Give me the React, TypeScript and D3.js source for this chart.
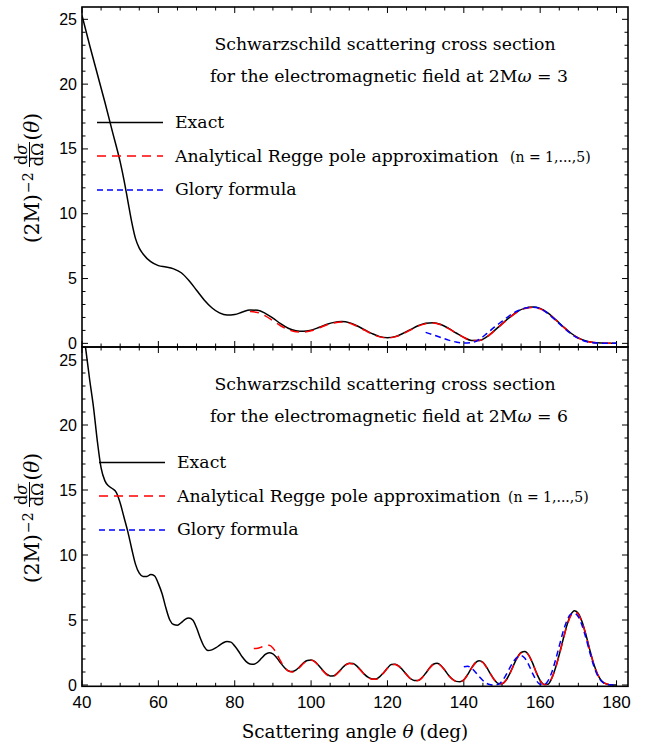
import React from "react";
import * as d3 from "d3";

// ---------- data ----------
const topExactTheta = [40,42,44,46,48,50,51,52,53,54,55,56,58,60,62,64,66,68,70,72,74,76,78,80,82,84,86,88,90,92,94,96,98,100,102,104,106,108,110,112,114,116,118,120,122,124,126,128,130,132,134,136,138,140,142,144,146,148,150,152,154,156,158,160,162,164,166,168,170,172,174,176,178,180];
const topExact = [25.3,23.0,20.8,18.6,16.3,14.0,12.6,11.0,9.4,8.1,7.35,6.9,6.3,6.0,5.9,5.75,5.45,4.85,4.1,3.35,2.75,2.35,2.18,2.22,2.42,2.58,2.55,2.32,1.95,1.52,1.17,0.98,0.93,1.02,1.22,1.45,1.62,1.68,1.6,1.36,1.05,0.75,0.52,0.44,0.52,0.76,1.06,1.36,1.55,1.6,1.46,1.16,0.8,0.46,0.23,0.22,0.5,0.98,1.5,2.0,2.45,2.72,2.8,2.7,2.35,1.85,1.3,0.8,0.42,0.18,0.07,0.02,0.0,0.0];

const topReggeTheta = [84,86,88,90,92,94,96,98,100,102,104,106,108,110,112,114,116,118,120,122,124,126,128,130,132,134,136,138,140,142,144,146,148,150,152,154,156,158,160,162,164,166,168,170,172,174,176,178,180];
const topRegge = [2.45,2.38,2.12,1.75,1.36,1.06,0.9,0.88,0.97,1.18,1.42,1.58,1.64,1.56,1.32,1.02,0.72,0.5,0.43,0.5,0.73,1.03,1.33,1.52,1.57,1.44,1.14,0.79,0.45,0.23,0.22,0.49,0.96,1.48,1.98,2.42,2.68,2.76,2.66,2.32,1.82,1.28,0.78,0.4,0.17,0.06,0.02,0.0,0.0];

const topGloryTheta = [130,132,134,136,138,140,142,144,146,148,150,152,154,156,158,160,162,164,166,168,170,172,174,176,178,180];
const topGlory = [0.85,0.65,0.45,0.25,0.1,0.02,0.05,0.3,0.75,1.25,1.7,2.15,2.5,2.72,2.78,2.68,2.3,1.8,1.25,0.75,0.38,0.15,0.05,0.01,0.0,0.0];

const botExactTheta = d3.range(40, 181);
const botExact = [28.0,25.8,23.5,21.4,18.8,16.7,15.7,15.3,15.1,14.8,14.0,12.9,11.8,10.5,9.3,8.6,8.35,8.35,8.5,8.4,7.8,7.0,5.9,5.0,4.65,4.6,4.8,5.05,5.15,5.0,4.4,3.6,2.95,2.65,2.7,2.85,3.05,3.25,3.35,3.3,3.0,2.6,2.15,1.8,1.62,1.6,1.75,2.05,2.35,2.48,2.4,2.1,1.7,1.35,1.1,1.03,1.15,1.4,1.7,1.88,1.92,1.8,1.5,1.15,0.85,0.7,0.72,0.95,1.25,1.55,1.68,1.65,1.45,1.15,0.82,0.58,0.47,0.47,0.65,0.95,1.3,1.58,1.6,1.45,1.15,0.8,0.5,0.35,0.35,0.55,0.9,1.3,1.6,1.67,1.5,1.15,0.75,0.45,0.28,0.25,0.4,0.8,1.3,1.7,1.87,1.75,1.35,0.85,0.4,0.12,0.1,0.35,0.85,1.5,2.1,2.5,2.57,2.3,1.7,0.95,0.35,0.04,0.05,0.5,1.3,2.35,3.5,4.6,5.4,5.72,5.5,4.85,3.85,2.7,1.65,0.85,0.35,0.12,0.03,0.0,0.0];

const botReggeTheta = d3.range(85, 181);
const botRegge = [2.8,2.82,2.92,3.05,3.05,2.85,2.4,1.85,1.38,1.08,1.0,1.1,1.35,1.65,1.85,1.9,1.78,1.47,1.12,0.82,0.66,0.68,0.92,1.22,1.52,1.65,1.62,1.42,1.12,0.8,0.56,0.45,0.45,0.63,0.93,1.28,1.56,1.58,1.43,1.13,0.78,0.48,0.33,0.34,0.54,0.88,1.28,1.58,1.65,1.48,1.13,0.74,0.44,0.27,0.24,0.39,0.78,1.28,1.68,1.85,1.73,1.33,0.84,0.39,0.12,0.1,0.34,0.84,1.48,2.08,2.47,2.54,2.28,1.68,0.94,0.34,0.04,0.05,0.49,1.28,2.32,3.45,4.55,5.32,5.62,5.42,4.78,3.8,2.66,1.62,0.84,0.34,0.12,0.03,0.0,0.0];

const botGloryTheta = d3.range(140, 181);
const botGlory = [1.4,1.45,1.3,1.0,0.65,0.35,0.12,0.02,0.0,0.05,0.3,0.75,1.3,1.8,2.15,2.25,2.05,1.55,0.9,0.35,0.05,0.02,0.3,0.95,1.9,3.0,4.1,4.95,5.45,5.5,5.25,4.55,3.6,2.5,1.5,0.75,0.3,0.08,0.01,0.0,0.0];

const xTickLabels = [40, 60, 80, 100, 120, 140, 160, 180];
const yTickLabels = [0, 5, 10, 15, 20, 25];
const titleLine1 = "Schwarzschild scattering cross section";
const titleLine2Prefix = "for the electromagnetic field at 2M";
const omegaValues = ["3", "6"];
const legendLabels = ["Exact", "Analytical Regge pole approximation", "Glory formula"];
const nRange = "(n = 1,...,5)";

// ---------- layout ----------
const W = 648, H = 749;
const X0 = 82, X1 = 628;
const panels = [
  { top: 7, bottom: 347, domain: [-0.28, 25.95] },
  { top: 347, bottom: 686.3, domain: [-0.1, 26.0] },
];
const SERIF = "'DejaVu Serif', serif";
const SANS = "'Liberation Sans', Arial, sans-serif";
const FS = 17.3;

const x = d3.scaleLinear().domain([40, 183]).range([X0, X1]);

function zip(t: number[], v: number[]) {
  return t.map((tt, i) => [tt, v[i]] as [number, number]);
}

function Panel({ idx }: { idx: number }) {
  const p = panels[idx];
  const y = d3.scaleLinear().domain(p.domain).range([p.bottom, p.top]);
  const line = d3
    .line<[number, number]>()
    .x((d) => x(d[0]))
    .y((d) => y(d[1]))
    .curve(d3.curveMonotoneX);
  const series =
    idx === 0
      ? [zip(topExactTheta, topExact), zip(topReggeTheta, topRegge), zip(topGloryTheta, topGlory)]
      : [zip(botExactTheta, botExact), zip(botReggeTheta, botRegge), zip(botGloryTheta, botGlory)];
  const clipId = `clip${idx}`;
  const xMinor = d3.range(40, 181, 5);
  const yMinor = d3.range(0, 26, 1);
  const off = idx === 0 ? 0 : 340;
  const legX1 = idx === 0 ? 97 : 99;
  const legX2 = legX1 + 66;
  const textX = idx === 0 ? 175 : 177;
  const legY = [122.5 + off, 156 + off, 190 + off];
  const legBase = [128.3 + off, 161.5 + off, 195 + off];
  const styles = [
    { stroke: "#000", dash: undefined as string | undefined },
    { stroke: "#ff0000", dash: "9,6" },
    { stroke: "#0000ff", dash: "6,4" },
  ];
  return (
    <g>
      <defs>
        <clipPath id={clipId}>
          <rect x={X0} y={p.top} width={X1 - X0} height={p.bottom - p.top} />
        </clipPath>
      </defs>
      {xMinor.map((t) => {
        const major = t % 20 === 0;
        const L = major ? 6 : 3.5;
        return (
          <g key={"xt" + t} stroke="#000" strokeWidth={1}>
            <line x1={x(t)} x2={x(t)} y1={p.bottom} y2={p.bottom - L} />
            <line x1={x(t)} x2={x(t)} y1={p.top} y2={p.top + L} />
          </g>
        );
      })}
      {yMinor.map((v) => {
        const major = v % 5 === 0;
        const L = major ? 6 : 3.5;
        return (
          <g key={"yt" + v} stroke="#000" strokeWidth={1}>
            <line x1={X0} x2={X0 + L} y1={y(v)} y2={y(v)} />
            <line x1={X1} x2={X1 - L} y1={y(v)} y2={y(v)} />
          </g>
        );
      })}
      {yTickLabels.map((v) => (
        <text key={"yl" + v} x={77} y={y(v) + 5.5} textAnchor="end" fontFamily={SANS} fontSize={16} fill="#000">
          {v}
        </text>
      ))}
      {idx === 1 &&
        xTickLabels.map((t) => (
          <text key={"xl" + t} x={x(t)} y={708} textAnchor="middle" fontFamily={SANS} fontSize={17} fill="#000">
            {t}
          </text>
        ))}
      <g clipPath={`url(#${clipId})`}>
        {series.map((s, i) => (
          <path
            key={"s" + i}
            d={line(s) || ""}
            fill="none"
            stroke={styles[i].stroke}
            strokeWidth={1.5}
            strokeDasharray={styles[i].dash}
          />
        ))}
      </g>
      <rect x={X0} y={p.top} width={X1 - X0} height={p.bottom - p.top} fill="none" stroke="#000" strokeWidth={1.6} />
      <text x={385} y={50 + off} textAnchor="middle" fontFamily={SERIF} fontSize={FS} fill="#000">
        {titleLine1}
      </text>
      <text x={389} y={81.7 + off} textAnchor="middle" fontFamily={SERIF} fontSize={FS} fill="#000">
        {titleLine2Prefix}
        <tspan fontStyle="italic">ω</tspan>
        {" = " + omegaValues[idx]}
      </text>
      {legendLabels.map((lab, i) => (
        <g key={"lg" + i}>
          <line x1={legX1} x2={legX2} y1={legY[i]} y2={legY[i]} stroke={styles[i].stroke} strokeWidth={1.5} strokeDasharray={styles[i].dash} />
          <text x={textX} y={legBase[i]} fontFamily={SERIF} fontSize={FS} fill="#000">
            {lab}
          </text>
        </g>
      ))}
      <text x={idx === 0 ? 510 : 508} y={legBase[1]} fontFamily={SERIF} fontSize={14} fill="#000">
        {nRange}
      </text>
      <g transform={`translate(39, ${243 + off}) rotate(-90)`} fontFamily={SERIF} fill="#000">
        <text x={0} y={0} fontSize={20}>(2M)</text>
        <text x={50} y={-6.5} fontSize={14}>−2</text>
        <text x={88.5} y={-12} fontSize={16} textAnchor="middle">
          d<tspan fontStyle="italic">σ</tspan>
        </text>
        <line x1={76} x2={101} y1={-9.5} y2={-9.5} stroke="#000" strokeWidth={1} />
        <text x={88.5} y={4} fontSize={16} textAnchor="middle">dΩ</text>
        <text x={102.5} y={0} fontSize={20}>
          (<tspan fontStyle="italic">θ</tspan>)
        </text>
      </g>
    </g>
  );
}

export default function App() {
  return (
    <svg width={W} height={H} viewBox={`0 0 ${W} ${H}`} style={{ display: "block", position: "absolute", left: 0, top: 0 }}>
      <rect x={0} y={0} width={W} height={H} fill="#fff" />
      <Panel idx={0} />
      <Panel idx={1} />
      <text x={355} y={738} textAnchor="middle" fontFamily={SERIF} fontSize={18.4} fill="#000">
        Scattering angle <tspan fontStyle="italic">θ</tspan> (deg)
      </text>
    </svg>
  );
}
